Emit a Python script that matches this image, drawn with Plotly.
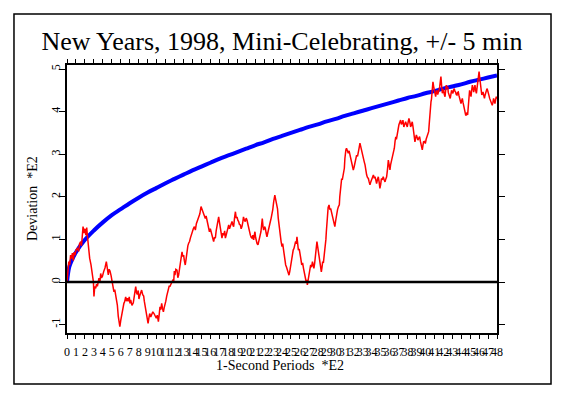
import plotly.graph_objects as go

# ---------------- data ----------------
title_text = "New Years, 1998, Mini-Celebrating, +/- 5 min"
x_title = "1-Second Periods  *E2"
y_title = "Deviation  *E2"

x_tick_vals = list(range(0, 49))
x_tick_text = [str(v) for v in x_tick_vals]
y_tick_vals = [-1, 0, 1, 2, 3, 4, 5]
y_tick_text = ["-1", "0", "1", "2", "3", "4", "5"]

# probability envelope (blue)
env_x = [0, 0.25, 0.5, 1, 2, 3, 4, 5, 6, 7, 8, 9, 10, 11, 12, 13, 14, 15, 16, 17,
         18, 19, 20, 21, 22, 23, 24, 25, 26, 27, 28, 29, 30, 31, 32, 33, 34, 35,
         36, 37, 38, 39, 40, 41, 42, 43, 44, 45, 46, 47, 48]
env_y = [0.00, 0.35, 0.49, 0.70, 0.99, 1.21, 1.40, 1.57, 1.71, 1.85, 1.98, 2.10,
         2.21, 2.32, 2.42, 2.52, 2.62, 2.71, 2.80, 2.89, 2.97, 3.05, 3.13, 3.21,
         3.28, 3.36, 3.43, 3.50, 3.57, 3.64, 3.70, 3.77, 3.83, 3.90, 3.96, 4.02,
         4.08, 4.14, 4.20, 4.26, 4.32, 4.37, 4.43, 4.48, 4.54, 4.59, 4.64, 4.70,
         4.75, 4.80, 4.85]

# cumulative deviation (red)
dev_x = [0.00, 0.10, 0.20, 0.30, 0.40, 0.50, 0.60, 0.70, 0.80, 0.90, 1.00, 1.15, 1.30, 1.40,
         1.53, 1.62, 1.70, 1.79, 1.90, 2.00, 2.10, 2.20, 2.27, 2.38, 2.53, 2.68, 2.83, 2.95,
         3.01, 3.10, 3.20, 3.30, 3.39, 3.50, 3.57, 3.68, 3.76, 3.85, 3.95, 4.10, 4.24, 4.39,
         4.50, 4.61, 4.70, 4.80, 4.92, 5.06, 5.15, 5.24, 5.33, 5.43, 5.52, 5.62, 5.72, 5.80,
         5.90, 6.00, 6.10, 6.18, 6.25, 6.35, 6.44, 6.55, 6.65, 6.74, 6.85, 6.95, 7.03, 7.11,
         7.25, 7.40, 7.50, 7.60, 7.67, 7.76, 7.85, 7.95, 8.03, 8.11, 8.22, 8.33, 8.45, 8.56,
         8.63, 8.70, 8.80, 8.90, 8.97, 9.05, 9.14, 9.23, 9.35, 9.45, 9.58, 9.71, 9.85, 9.97,
         10.08, 10.20, 10.30, 10.38, 10.47, 10.57, 10.66, 10.76, 10.85, 10.94, 11.03, 11.13,
         11.22, 11.30, 11.40, 11.50, 11.60, 11.69, 11.76, 11.84, 11.91, 11.98, 12.05, 12.15,
         12.28, 12.37, 12.46, 12.55, 12.65, 12.74, 12.84, 12.93, 13.02, 13.10, 13.20, 13.30,
         13.40, 13.49, 13.58, 13.68, 13.77, 13.86, 13.96, 14.10, 14.22, 14.33, 14.44, 14.57,
         14.70, 14.83, 14.96, 15.07, 15.18, 15.30, 15.44, 15.53, 15.63, 15.77, 15.90, 16.00,
         16.07, 16.20, 16.37, 16.46, 16.56, 16.65, 16.74, 16.83, 16.93, 17.02, 17.12, 17.20,
         17.30, 17.40, 17.50, 17.60, 17.68, 17.77, 17.86, 17.95, 18.05, 18.14, 18.23, 18.33,
         18.42, 18.50, 18.60, 18.70, 18.80, 18.89, 18.98, 19.07, 19.16, 19.25, 19.35, 19.44,
         19.53, 19.62, 19.70, 19.80, 19.90, 20.00, 20.10, 20.20, 20.28, 20.38, 20.47, 20.56,
         20.65, 20.75, 20.84, 20.91, 20.98, 21.05, 21.13, 21.22, 21.32, 21.41, 21.50, 21.58,
         21.65, 21.73, 21.80, 21.88, 21.95, 22.05, 22.14, 22.23, 22.32, 22.41, 22.50, 22.60,
         22.70, 22.79, 22.88, 22.97, 23.07, 23.14, 23.20, 23.28, 23.37, 23.45, 23.50, 23.58,
         23.66, 23.73, 23.80, 23.90, 24.00, 24.08, 24.15, 24.26, 24.33, 24.41, 24.50, 24.60,
         24.70, 24.78, 24.87, 24.96, 25.05, 25.15, 25.25, 25.34, 25.43, 25.52, 25.60, 25.67,
         25.75, 25.83, 25.92, 26.00, 26.10, 26.20, 26.30, 26.40, 26.48, 26.56, 26.63, 26.70,
         26.76, 26.83, 26.92, 27.00, 27.10, 27.20, 27.30, 27.40, 27.48, 27.56, 27.65, 27.75,
         27.83, 27.90, 27.97, 28.05, 28.15, 28.24, 28.32, 28.39, 28.47, 28.54, 28.62, 28.69,
         28.77, 28.84, 28.90, 28.95, 29.00, 29.06, 29.15, 29.25, 29.34, 29.43, 29.52, 29.60,
         29.70, 29.80, 29.90, 30.00, 30.10, 30.20, 30.30, 30.40, 30.45, 30.50, 30.58, 30.66,
         30.73, 30.80, 30.88, 30.96, 31.02, 31.07, 31.13, 31.20, 31.30, 31.40, 31.49, 31.58,
         31.68, 31.77, 31.86, 31.96, 32.05, 32.15, 32.24, 32.33, 32.43, 32.52, 32.61, 32.70,
         32.80, 32.90, 33.00, 33.08, 33.18, 33.27, 33.36, 33.45, 33.55, 33.64, 33.73, 33.82,
         33.91, 34.00, 34.10, 34.20, 34.29, 34.38, 34.47, 34.56, 34.65, 34.75, 34.84, 34.93,
         35.02, 35.10, 35.20, 35.30, 35.40, 35.50, 35.59, 35.68, 35.78, 35.87, 35.96, 36.05,
         36.12, 36.20, 36.30, 36.40, 36.47, 36.54, 36.62, 36.70, 36.77, 36.83, 36.94, 37.05,
         37.15, 37.24, 37.32, 37.40, 37.50, 37.60, 37.70, 37.80, 37.89, 37.98, 38.08, 38.17,
         38.27, 38.36, 38.45, 38.54, 38.62, 38.70, 38.77, 38.84, 38.92, 39.00, 39.08, 39.17,
         39.27, 39.36, 39.45, 39.55, 39.60, 39.66, 39.73, 39.80, 39.90, 40.00, 40.09, 40.18,
         40.28, 40.37, 40.43, 40.48, 40.55, 40.63, 40.69, 40.74, 40.80, 40.85, 40.92, 41.00,
         41.08, 41.15, 41.22, 41.30, 41.38, 41.45, 41.52, 41.60, 41.67, 41.74, 41.82, 41.90,
         41.97, 42.04, 42.12, 42.20, 42.27, 42.34, 42.42, 42.50, 42.56, 42.63, 42.70, 42.78,
         42.85, 42.93, 43.00, 43.08, 43.15, 43.23, 43.30, 43.38, 43.45, 43.53, 43.60, 43.68,
         43.75, 43.83, 43.90, 43.98, 44.05, 44.13, 44.20, 44.27, 44.35, 44.42, 44.50, 44.57,
         44.65, 44.72, 44.78, 44.83, 44.88, 44.94, 45.02, 45.10, 45.17, 45.25, 45.32, 45.40,
         45.47, 45.54, 45.62, 45.70, 45.77, 45.84, 45.92, 46.00, 46.07, 46.14, 46.22, 46.30,
         46.37, 46.44, 46.52, 46.60, 46.66, 46.73, 46.80, 46.88, 46.95, 47.03, 47.10, 47.18,
         47.25, 47.32, 47.40, 47.47, 47.55, 47.62, 47.70, 47.77, 47.85, 47.92, 48.00]
dev_y = [0.00, 0.30, 0.48, 0.40, 0.63, 0.55, 0.68, 0.50, 0.70, 0.63, 0.75, 0.79, 0.72, 0.90,
         0.95, 0.85, 1.10, 1.30, 1.15, 1.25, 1.10, 1.28, 1.10, 0.80, 0.56, 0.40, 0.20, 0.00,
         -0.34, -0.10, -0.15, -0.05, -0.10, 0.05, 0.09, 0.00, 0.20, 0.10, 0.13, 0.25, 0.33, 0.48,
         0.30, 0.17, 0.30, 0.26, 0.15, 0.00, -0.10, -0.23, -0.18, -0.29, -0.35, -0.54, -0.80, -0.93,
         -1.05, -0.90, -0.77, -0.65, -0.59, -0.50, -0.46, -0.35, -0.45, -0.38, -0.45, -0.35, -0.50, -0.42,
         -0.55, -0.49, -0.35, -0.20, -0.11, -0.25, -0.29, -0.20, -0.40, -0.33, -0.25, -0.19, -0.30, -0.33,
         -0.45, -0.54, -0.65, -0.77, -0.90, -0.97, -0.85, -0.74, -0.82, -0.77, -0.70, -0.74, -0.80, -0.85,
         -0.78, -0.93, -0.75, -0.58, -0.65, -0.50, -0.62, -0.70, -0.60, -0.54, -0.45, -0.33,
         -0.25, -0.19, -0.10, -0.10, -0.05, -0.02, 0.05, 0.06, 0.00, 0.26, 0.16, 0.30,
         0.28, 0.10, 0.16, 0.30, 0.40, 0.55, 0.71, 0.60, 0.63, 0.50, 0.40, 0.55,
         0.75, 0.85, 0.91, 0.95, 1.03, 1.10, 1.18, 1.25, 1.30, 1.22, 1.37, 1.45,
         1.49, 1.60, 1.77, 1.70, 1.61, 1.55, 1.49, 1.55, 1.42, 1.30, 1.18, 1.25,
         1.18, 1.05, 0.95, 1.05, 1.03, 1.20, 1.30, 1.40, 1.53, 1.40, 1.26, 1.15,
         1.03, 1.15, 1.10, 1.20, 1.03, 1.10, 1.18, 1.25, 1.34, 1.25, 1.30, 1.40,
         1.42, 1.35, 1.30, 1.50, 1.65, 1.50, 1.53, 1.45, 1.42, 1.35, 1.34, 1.25,
         1.30, 1.40, 1.53, 1.45, 1.42, 1.50, 1.45, 1.35, 1.26, 1.20, 1.10, 1.05,
         1.03, 1.10, 0.99, 1.10, 1.18, 1.05, 0.95, 0.90, 0.87, 0.95, 0.99, 1.10,
         1.18, 1.35, 1.49, 1.30, 1.22, 1.30, 1.26, 1.15, 1.06, 1.15, 1.26, 1.35,
         1.42, 1.50, 1.57, 1.70, 1.88, 1.95, 2.04, 1.95, 1.88, 1.80, 1.72, 1.50,
         1.34, 1.20, 1.10, 0.95, 0.83, 0.90, 0.79, 0.56, 0.50, 0.40, 0.35, 0.28,
         0.20, 0.16, 0.25, 0.40, 0.55, 0.71, 0.75, 0.79, 0.85, 0.95, 0.90, 1.06,
         0.90, 0.75, 0.78, 0.71, 0.55, 0.40, 0.45, 0.32, 0.25, 0.16, 0.10, 0.00,
         0.05, -0.07, 0.05, 0.16, 0.30, 0.40, 0.35, 0.48, 0.40, 0.32, 0.45, 0.71,
         0.85, 0.95, 0.85, 0.71, 0.60, 0.48, 0.35, 0.24, 0.35, 0.48, 0.45, 0.56,
         0.70, 0.87, 1.00, 1.18, 1.40, 1.65, 1.75, 1.81, 1.70, 1.73, 1.65, 1.57,
         1.50, 1.46, 1.30, 1.45, 1.65, 1.70, 1.77, 1.81, 2.00, 2.12, 2.30, 2.43,
         2.40, 2.47, 2.55, 2.67, 2.90, 3.06, 3.10, 3.14, 3.05, 3.02, 3.08, 2.98,
         2.90, 2.79, 2.70, 2.63, 2.70, 2.79, 2.90, 2.98, 2.95, 3.02, 3.15, 3.26,
         3.15, 3.06, 2.95, 2.90, 2.82, 2.75, 2.60, 2.51, 2.45, 2.43, 2.35, 2.28,
         2.35, 2.39, 2.45, 2.51, 2.45, 2.47, 2.40, 2.31, 2.40, 2.47, 2.35, 2.20,
         2.30, 2.43, 2.40, 2.47, 2.40, 2.35, 2.42, 2.47, 2.65, 2.86, 2.75, 2.63,
         2.75, 2.82, 2.95, 3.02, 3.10, 3.14, 3.30, 3.41, 3.35, 3.45, 3.55, 3.69,
         3.75, 3.80, 3.70, 3.72, 3.80, 3.64, 3.70, 3.76, 3.70, 3.64, 3.75, 3.84,
         3.75, 3.64, 3.70, 3.76, 3.65, 3.53, 3.40, 3.29, 3.38, 3.45, 3.40, 3.33,
         3.38, 3.41, 3.30, 3.22, 3.15, 3.10, 3.20, 3.29, 3.30, 3.25, 3.35, 3.41,
         3.47, 3.53, 3.70, 3.92, 4.05, 4.23, 4.30, 4.39, 4.55, 4.70, 4.60, 4.50,
         4.40, 4.35, 4.45, 4.50, 4.40, 4.43, 4.50, 4.58, 4.70, 4.82, 4.60, 4.43,
         4.52, 4.50, 4.40, 4.35, 4.50, 4.62, 4.55, 4.58, 4.45, 4.39, 4.35, 4.31,
         4.40, 4.50, 4.45, 4.43, 4.50, 4.54, 4.48, 4.46, 4.40, 4.39, 4.45, 4.46,
         4.38, 4.31, 4.25, 4.19, 4.25, 4.31, 4.22, 4.15, 4.05, 3.96, 3.92, 3.92,
         3.98, 3.92, 4.05, 4.23, 4.40, 4.50, 4.42, 4.35, 4.50, 4.62, 4.55, 4.46,
         4.55, 4.62, 4.50, 4.43, 4.55, 4.70, 4.80, 4.94, 4.80, 4.62, 4.50, 4.39,
         4.42, 4.46, 4.38, 4.31, 4.38, 4.43, 4.48, 4.54, 4.50, 4.46, 4.38, 4.31,
         4.28, 4.23, 4.18, 4.15, 4.22, 4.31, 4.25, 4.19, 4.28, 4.35, 4.30]

# ---------------- figure ----------------
serif = "Liberation Serif, Times New Roman, serif"

fig = go.Figure()
fig.add_trace(go.Scatter(x=env_x, y=env_y, mode="lines", line=dict(color="#0000ff", width=4),
                         line_shape="spline", hoverinfo="skip"))
fig.add_trace(go.Scatter(x=dev_x, y=dev_y, mode="lines", line=dict(color="#ff0000", width=1.5),
                         hoverinfo="skip"))

# zero reference line
fig.add_shape(type="line", xref="paper", x0=0, x1=1, yref="y", y0=0, y1=0,
              line=dict(color="black", width=2.5), layer="above")
# outer frame
fig.add_shape(type="rect", xref="paper", yref="paper", x0=-0.1233, x1=1.1256, y0=-0.190, y1=1.190,
              line=dict(color="black", width=1.5), layer="above")

axis_common = dict(showline=True, linecolor="black", linewidth=1.5, mirror="ticks",
                   ticks="outside", tickcolor="black", tickwidth=1.2, showgrid=False,
                   zeroline=False, tickfont=dict(family=serif, size=12, color="black"))

W, H = 556, 388
fig.update_layout(
    width=W, height=H,
    margin=dict(l=59, r=W - 59 - 430, t=57, b=H - 57 - 268),
    paper_bgcolor="white", plot_bgcolor="white",
    showlegend=False,
    title=dict(text=title_text, x=0.5, xanchor="center", xref="paper",
               y=1 - 33 / H, yref="container", yanchor="middle",
               font=dict(family=serif, size=26, color="black")),
    xaxis=dict(range=[0, 48], tickmode="array", tickvals=x_tick_vals, ticktext=x_tick_text,
               tickangle=0, ticklen=4, ticklabelstandoff=3, **axis_common),
    yaxis=dict(range=[-1.197, 5.094], tickmode="array", tickvals=y_tick_vals, ticktext=y_tick_text,
               tickangle=-90, ticklen=6, ticklabelstandoff=-6, **axis_common),
    annotations=[
        dict(text=x_title, xref="paper", yref="paper", x=0.495, y=(333 - 365) / 268,
             xanchor="center", yanchor="middle", showarrow=False,
             font=dict(family=serif, size=14, color="black")),
        dict(text=y_title, xref="paper", yref="paper", x=(32 - 67) / 430, y=0.5,
             xanchor="center", yanchor="middle", textangle=-90, showarrow=False,
             font=dict(family=serif, size=14, color="black")),
    ],
)

fig.write_html("out.html")
